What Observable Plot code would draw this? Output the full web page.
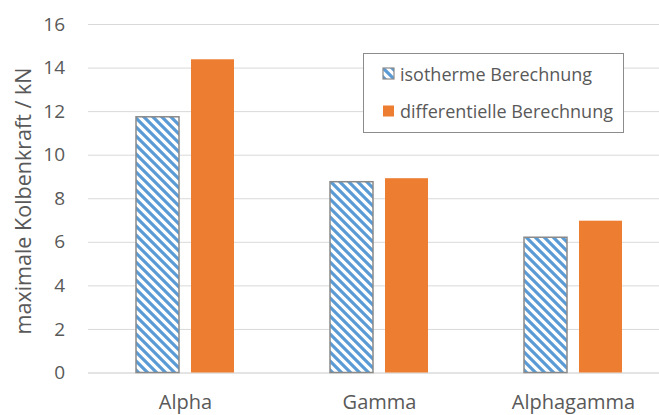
<!DOCTYPE html>
<html>
<head>
<meta charset="utf-8">
<script src="https://cdn.jsdelivr.net/npm/d3@7"></script>
<script src="https://cdn.jsdelivr.net/npm/@observablehq/plot@0.6"></script>
<style>
  html, body { margin: 0; padding: 0; background: #fff; }
  #chart { width: 659px; height: 415px; overflow: hidden; }
</style>
</head>
<body>
<div id="chart"></div>
<script>
// ---- data ----
const categories = ["Alpha", "Gamma", "Alphagamma"];
const seriesNames = ["isotherme Berechnung", "differentielle Berechnung"];
const isothermValues = [11.74, 8.76, 6.21];
const differentiellValues = [14.38, 8.92, 6.97];
const yTicks = [0, 2, 4, 6, 8, 10, 12, 14, 16];
const yTitle = "maximale Kolbenkraft / kN";

const isoData = categories.map((c, i) => ({cat: c, s: seriesNames[0], v: isothermValues[i]}));
const diffData = categories.map((c, i) => ({cat: c, s: seriesNames[1], v: differentiellValues[i]}));

const textColor = "#595959";
const orange = "#ED7D31";
const blue = "#5B9BD5";
const font = "'Open Sans', Lato, sans-serif";

const plot = Plot.plot({
  width: 659,
  height: 415,
  marginLeft: 88,
  marginRight: 0,
  marginTop: 24,
  marginBottom: 42.5,
  style: {fontFamily: font, fontSize: "19px", color: textColor, background: "#fff", overflow: "visible"},
  fx: {domain: categories, range: [87.5, 670.5], padding: 0, label: null, tickSize: 0, tickPadding: 22},
  x: {domain: seriesNames, paddingInner: 0.22, paddingOuter: 0.845, axis: null},
  y: {domain: [0, 16], ticks: yTicks, label: null, tickSize: 0, tickPadding: 23.5},
  marks: [
    Plot.ruleY(yTicks, {stroke: d => d === 0 ? "#c8c8c8" : "#d9d9d9", strokeWidth: 1}),
    Plot.barY(isoData, {fx: "cat", x: "s", y: "v", fill: "url(#hatch)", stroke: "#8a8a8a", strokeWidth: 1.5}),
    Plot.barY(diffData, {fx: "cat", x: "s", y: "v", fill: orange})
  ]
});

const svg = d3.select(plot);
// slightly larger category labels
svg.selectAll("g[aria-label='fx-axis tick label'] text").style("font-size", "20px");

const defs = svg.insert("defs", ":first-child");
const pat = defs.append("pattern")
  .attr("id", "hatch")
  .attr("patternUnits", "userSpaceOnUse")
  .attr("width", 9).attr("height", 9);
pat.append("rect").attr("width", 9).attr("height", 9).attr("fill", "#fff");
pat.append("path")
  .attr("d", "M-2,-2L11,11M-2,7L2,11M7,-2L11,2")
  .attr("stroke", blue).attr("stroke-width", 3.2).attr("fill", "none");

// y-axis title
svg.append("text")
  .attr("transform", "translate(31,201) rotate(-90)")
  .attr("text-anchor", "middle")
  .attr("fill", textColor)
  .style("font-family", font)
  .style("font-size", "21.5px")
  .text(yTitle);

// legend
const lg = svg.append("g");
lg.append("rect")
  .attr("x", 363.5).attr("y", 53.5).attr("width", 260).attr("height", 79)
  .attr("fill", "#fff").attr("stroke", "#8c8c8c").attr("stroke-width", 1);
const items = [
  {name: seriesNames[0], fill: "url(#hatch)", stroke: "#8a8a8a", y: 80.5},
  {name: seriesNames[1], fill: orange, stroke: "none", y: 118}
];
items.forEach(it => {
  lg.append("rect")
    .attr("x", 383).attr("y", it.y - 12.5).attr("width", 11).attr("height", 11)
    .attr("fill", it.fill).attr("stroke", it.stroke).attr("stroke-width", 1.2);
  lg.append("text")
    .attr("x", 400).attr("y", it.y)
    .attr("text-anchor", "start")
    .attr("fill", textColor)
    .style("font-family", font)
    .style("font-size", "18px")
    .text(it.name);
});

document.getElementById("chart").appendChild(plot);
</script>
</body>
</html>
